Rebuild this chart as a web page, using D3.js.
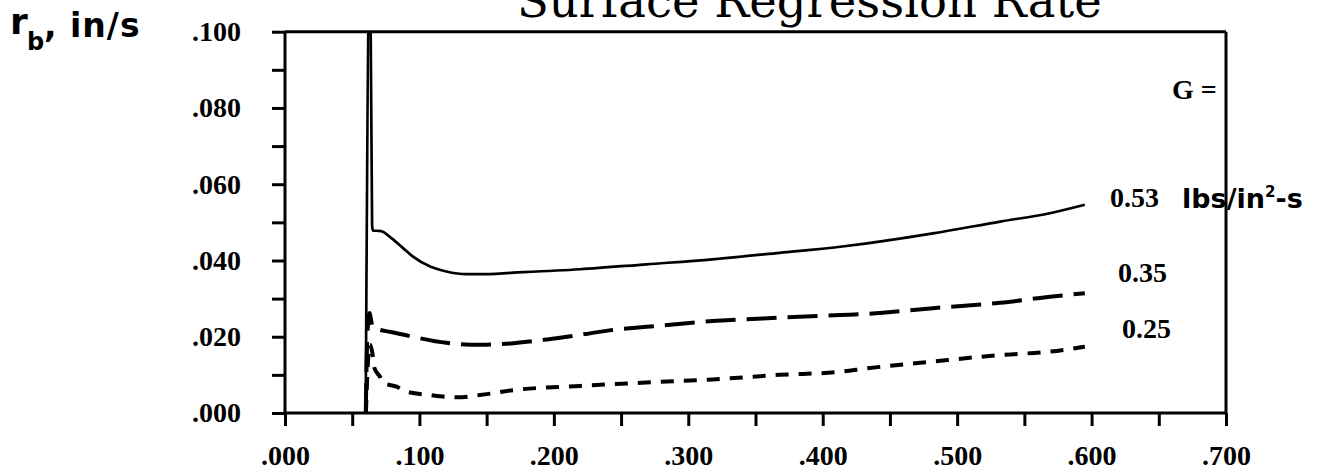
<!DOCTYPE html>
<html>
<head>
<meta charset="utf-8">
<script src="https://cdn.jsdelivr.net/npm/d3@7"></script>
<style>
  html, body { margin: 0; padding: 0; background: #fff; }
  svg { display: block; }
  .tick text { font-family: "Liberation Serif", "Times New Roman", serif; font-size: 28px; font-weight: bold; fill: #000; }
  .hand { font-family: "DejaVu Sans", sans-serif; fill: #000; }
</style>
</head>
<body>
<svg id="chart" width="1333" height="476"></svg>
<script>
// Regression rate r_b (in/s) vs. axial position, for three mass fluxes G
const xTickValues = [0, 0.05, 0.1, 0.15, 0.2, 0.25, 0.3, 0.35, 0.4, 0.45, 0.5, 0.55, 0.6, 0.65, 0.7];
const xTickLabels = [".000", ".100", ".200", ".300", ".400", ".500", ".600", ".700"];
const yTickValues = [0, 0.01, 0.02, 0.03, 0.04, 0.05, 0.06, 0.07, 0.08, 0.09, 0.1];
const yTickLabels = [".000", ".020", ".040", ".060", ".080", ".100"];

const fluxLabels = ["0.53", "0.35", "0.25"];

// G = 0.53 (solid)
const rateG053 = [
  [0.0600, 0], [0.0632, 0.125], [0.0648, 0.049], [0.0655, 0.0478], [0.068, 0.0478], [0.0715, 0.0477],
  [0.078, 0.0462], [0.087, 0.0435], [0.0952, 0.041], [0.108, 0.0384], [0.120, 0.0371],
  [0.135, 0.0364], [0.145, 0.0364], [0.170, 0.0368], [0.2195, 0.0377], [0.269, 0.039],
  [0.318, 0.0403], [0.368, 0.042], [0.413, 0.0436], [0.433, 0.0445], [0.482, 0.0471],
  [0.532, 0.0502], [0.569, 0.0524], [0.595, 0.0546]
];
// G = 0.35 (long dash)
const rateG035 = [
  [0.0601, 0], [0.0612, 0.020], [0.0628, 0.0262], [0.0645, 0.0235], [0.0655, 0.0223], [0.0707, 0.0218],
  [0.078, 0.0213], [0.095, 0.020], [0.120, 0.0184], [0.145, 0.0179], [0.170, 0.0183],
  [0.195, 0.0193], [0.2195, 0.0205], [0.244, 0.0218], [0.269, 0.0226], [0.318, 0.0241],
  [0.368, 0.025], [0.413, 0.0257], [0.433, 0.026], [0.482, 0.0275], [0.532, 0.0289],
  [0.569, 0.0305], [0.595, 0.0314]
];
// G = 0.25 (short dash)
const rateG025 = [
  [0.0602, 0], [0.0615, 0.012], [0.0632, 0.018], [0.065, 0.0157], [0.0665, 0.0118], [0.0707, 0.0095],
  [0.073, 0.0079], [0.083, 0.0069], [0.0905, 0.0056], [0.108, 0.0047], [0.128, 0.0041],
  [0.145, 0.0047], [0.170, 0.006], [0.2195, 0.0071], [0.269, 0.008], [0.318, 0.0088],
  [0.368, 0.010], [0.413, 0.0108], [0.433, 0.0117], [0.482, 0.0135], [0.532, 0.0152],
  [0.569, 0.0161], [0.595, 0.0174]
];

const svg = d3.select("#chart");
const plotLeft = 285, plotRight = 1226, plotTop = 31.7, plotBottom = 413;
const x = d3.scaleLinear().domain([0, 0.7]).range([plotLeft, plotRight]);
const y = d3.scaleLinear().domain([0, 0.1]).range([plotBottom, plotTop]);

// Title (runs off the top edge)
svg.append("text")
  .attr("x", 517).attr("y", 17)
  .attr("font-family", "DejaVu Serif, serif")
  .attr("font-size", 46.5)
  .text("Surface Regression Rate");

// Axes
const xAxis = d3.axisBottom(x)
  .tickValues(xTickValues)
  .tickSize(13)
  .tickPadding(19)
  .tickFormat((d, i) => i % 2 === 0 ? xTickLabels[i / 2] : "");
const yAxis = d3.axisLeft(y)
  .tickValues(yTickValues)
  .tickSize(13)
  .tickPadding(31)
  .tickFormat((d, i) => i % 2 === 0 ? yTickLabels[i / 2] : "");

const gx = svg.append("g").attr("transform", `translate(0,${plotBottom})`).call(xAxis);
const gy = svg.append("g").attr("transform", `translate(${plotLeft},0)`).call(yAxis);
[gx, gy].forEach(g => {
  g.select(".domain").remove();
  g.selectAll(".tick line").attr("stroke", "#000").attr("stroke-width", 3);
});

// Frame
const frame = svg.append("g").attr("stroke", "#000").attr("stroke-width", 3).attr("fill", "none");
frame.append("line").attr("x1", plotLeft).attr("x2", plotRight).attr("y1", plotTop).attr("y2", plotTop);
frame.append("line").attr("x1", plotLeft).attr("x2", plotRight).attr("y1", plotBottom).attr("y2", plotBottom);
frame.append("line").attr("x1", plotLeft).attr("x2", plotLeft).attr("y1", plotTop).attr("y2", plotBottom);
frame.append("line").attr("x1", plotRight).attr("x2", plotRight).attr("y1", plotTop).attr("y2", plotBottom);

// Curves
svg.append("clipPath").attr("id", "plot-clip")
  .append("rect").attr("x", plotLeft).attr("y", plotTop)
  .attr("width", plotRight - plotLeft).attr("height", plotBottom - plotTop);

const line = d3.line().x(d => x(d[0])).y(d => y(d[1])).curve(d3.curveMonotoneX);
const curves = svg.append("g").attr("clip-path", "url(#plot-clip)").attr("fill", "none").attr("stroke", "#000");
curves.append("path").attr("d", line(rateG053)).attr("stroke-width", 2.7);
curves.append("path").attr("d", line(rateG035)).attr("stroke-width", 4).attr("stroke-dasharray", "30 11");
curves.append("path").attr("d", line(rateG025)).attr("stroke-width", 4).attr("stroke-dasharray", "13 10");

// Labels for G
const lab = svg.append("g")
  .attr("font-family", "Liberation Serif, serif")
  .attr("font-weight", "bold")
  .attr("font-size", 28);
lab.append("text").attr("x", 1172).attr("y", 99).text("G =");
lab.append("text").attr("x", 1110).attr("y", 207).text(fluxLabels[0]);
lab.append("text").attr("x", 1118).attr("y", 282).text(fluxLabels[1]);
lab.append("text").attr("x", 1122).attr("y", 338).text(fluxLabels[2]);

// Hand-lettered units
const hand = svg.append("g").attr("class", "hand").attr("font-weight", "bold");
hand.append("text").attr("x", 10).attr("y", 34).attr("font-size", 36).text("r");
hand.append("text").attr("x", 27).attr("y", 50).attr("font-size", 24).text("b");
hand.append("text").attr("x", 44).attr("y", 37).attr("font-size", 33).attr("letter-spacing", 1).text(", in/s");
const units = hand.append("text").attr("x", 1182).attr("y", 208).attr("font-size", 27);
units.append("tspan").text("lbs/in");
units.append("tspan").attr("font-size", 15).attr("dy", -11).text("2");
units.append("tspan").attr("dy", 11).text("-s");
</script>
</body>
</html>
